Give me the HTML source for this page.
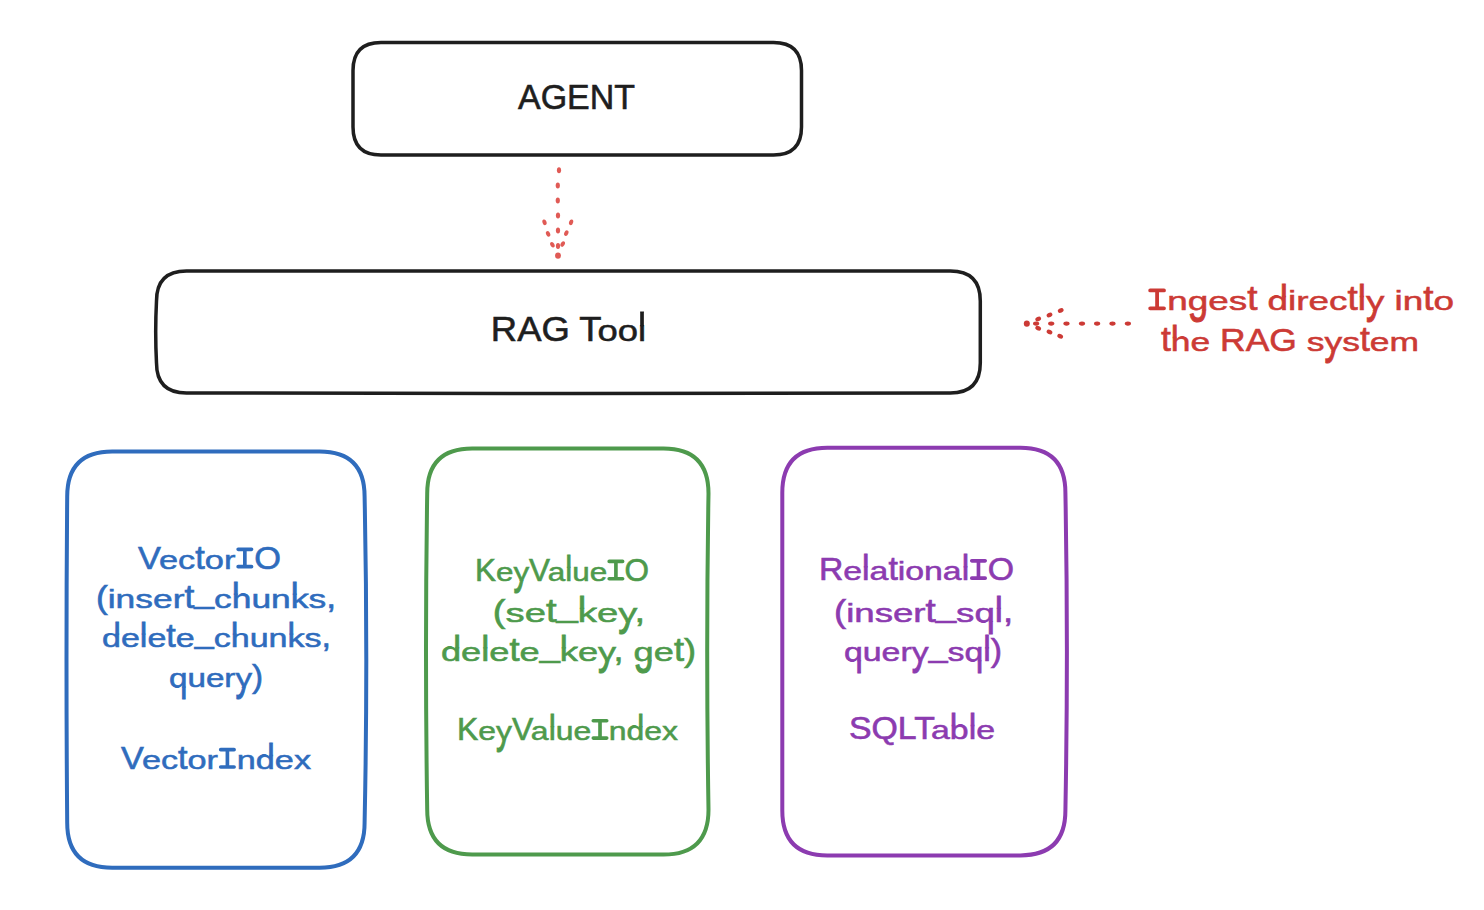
<!DOCTYPE html><html><head><meta charset="utf-8"><style>html,body{margin:0;padding:0;background:#fff;width:1484px;height:910px;overflow:hidden}svg{display:block}text{font-family:"Liberation Sans",sans-serif}</style></head><body>
<svg width="1484" height="910" viewBox="0 0 1484 910">
<defs><clipPath id="ab" clipPathUnits="userSpaceOnUse"><rect x="-500" y="-500" width="1000" height="500.4"/></clipPath><clipPath id="be" clipPathUnits="userSpaceOnUse"><rect x="-500" y="-0.4" width="1000" height="500.4"/></clipPath><clipPath id="xa30_5" clipPathUnits="userSpaceOnUse"><rect x="-500" y="-500" width="1000" height="484.396"/></clipPath><clipPath id="xb30_5" clipPathUnits="userSpaceOnUse"><rect x="-500" y="-16.604" width="1000" height="516.604"/></clipPath><clipPath id="xa31_5" clipPathUnits="userSpaceOnUse"><rect x="-500" y="-500" width="1000" height="483.868"/></clipPath><clipPath id="xb31_5" clipPathUnits="userSpaceOnUse"><rect x="-500" y="-17.132" width="1000" height="517.132"/></clipPath><clipPath id="xa34_5" clipPathUnits="userSpaceOnUse"><rect x="-500" y="-500" width="1000" height="482.284"/></clipPath><clipPath id="xb34_5" clipPathUnits="userSpaceOnUse"><rect x="-500" y="-18.716" width="1000" height="518.716"/></clipPath></defs>
<path d="M381.0,42.5 Q577.2,42.5 773.5,42.5 Q801.5,42.5 801.5,70.5 Q801.5,98.8 801.5,127.0 Q801.5,155.0 773.5,155.0 Q577.2,155.0 381.0,155.0 Q353.0,155.0 353.0,127.0 Q353.0,98.8 353.0,70.5 Q353.0,42.5 381.0,42.5 Z" fill="none" stroke="#1e1e1e" stroke-width="3.5" stroke-linejoin="round"/>
<path d="M186.5,271.0 Q568.4,271.0 950.3,271.0 Q980.3,271.0 980.3,301.0 Q980.3,332.0 980.3,363.0 Q980.3,393.0 950.3,393.0 Q568.4,394.0 186.5,393.0 Q156.5,393.0 156.5,363.0 Q154.9,332.0 156.5,301.0 Q156.5,271.0 186.5,271.0 Z" fill="none" stroke="#1e1e1e" stroke-width="3.5" stroke-linejoin="round"/>
<path d="M112.2,451.5 Q215.9,451.5 319.6,451.5 Q364.6,451.5 364.6,496.5 Q368.0,659.6 364.6,822.7 Q364.6,867.7 319.6,867.7 Q215.9,867.7 112.2,867.7 Q67.2,867.7 67.2,822.7 Q65.8,659.6 67.2,496.5 Q67.2,451.5 112.2,451.5 Z" fill="none" stroke="#2f6cbd" stroke-width="4.0" stroke-linejoin="round"/>
<path d="M472.2,448.5 Q567.9,448.5 663.5,448.5 Q708.5,448.5 708.5,493.5 Q705.9,651.5 708.5,809.6 Q708.5,854.6 663.5,854.6 Q567.9,854.6 472.2,854.6 Q427.2,854.6 427.2,809.6 Q424.8,651.5 427.2,493.5 Q427.2,448.5 472.2,448.5 Z" fill="none" stroke="#4e9a4c" stroke-width="4.0" stroke-linejoin="round"/>
<path d="M827.3,447.7 Q923.9,447.7 1020.4,447.7 Q1065.4,447.7 1065.4,492.7 Q1068.4,651.5 1065.4,810.4 Q1065.4,855.4 1020.4,855.4 Q923.9,855.4 827.3,855.4 Q782.3,855.4 782.3,810.4 Q782.3,651.5 782.3,492.7 Q782.3,447.7 827.3,447.7 Z" fill="none" stroke="#8c3bb0" stroke-width="4.0" stroke-linejoin="round"/>
<ellipse cx="559" cy="170.3" rx="2.1" ry="3.0" fill="#e05a55"/>
<ellipse cx="557.8" cy="185.4" rx="2.1" ry="3.0" fill="#e05a55"/>
<ellipse cx="557.8" cy="200.5" rx="2.1" ry="3.0" fill="#e05a55"/>
<ellipse cx="558" cy="215.6" rx="2.1" ry="3.0" fill="#e05a55"/>
<ellipse cx="558" cy="230.5" rx="2.1" ry="3.0" fill="#e05a55"/>
<ellipse cx="558" cy="245.9" rx="2.1" ry="3.0" fill="#e05a55"/>
<ellipse cx="558" cy="255.6" rx="2.9" ry="3.2" fill="#e05a55"/>
<ellipse cx="544.5" cy="222.3" rx="2.0" ry="2.9" fill="#e05a55" transform="rotate(-20 544.5 222.3)"/>
<ellipse cx="548.1" cy="233.8" rx="2.0" ry="2.9" fill="#e05a55" transform="rotate(-25 548.1 233.8)"/>
<ellipse cx="552.4" cy="244.7" rx="2.0" ry="2.9" fill="#e05a55" transform="rotate(-30 552.4 244.7)"/>
<ellipse cx="571.1" cy="222.3" rx="2.0" ry="2.9" fill="#e05a55" transform="rotate(20 571.1 222.3)"/>
<ellipse cx="566.3" cy="233.2" rx="2.0" ry="2.9" fill="#e05a55" transform="rotate(25 566.3 233.2)"/>
<ellipse cx="562.7" cy="244.1" rx="2.0" ry="2.9" fill="#e05a55" transform="rotate(30 562.7 244.1)"/>
<ellipse cx="1036.1" cy="323.6" rx="3.1" ry="2.1" fill="#cc3a35"/>
<ellipse cx="1051.2" cy="323.6" rx="3.1" ry="2.1" fill="#cc3a35"/>
<ellipse cx="1066.5" cy="323.6" rx="3.1" ry="2.1" fill="#cc3a35"/>
<ellipse cx="1082" cy="323.6" rx="3.1" ry="2.1" fill="#cc3a35"/>
<ellipse cx="1097.1" cy="323.6" rx="3.1" ry="2.1" fill="#cc3a35"/>
<ellipse cx="1112.5" cy="323.6" rx="3.1" ry="2.1" fill="#cc3a35"/>
<ellipse cx="1127.9" cy="323.6" rx="3.1" ry="2.1" fill="#cc3a35"/>
<ellipse cx="1026.8" cy="323.6" rx="3.0" ry="3.2" fill="#cc3a35"/>
<ellipse cx="1038.2" cy="319" rx="3.0" ry="2.2" fill="#cc3a35" transform="rotate(-25 1038.2 319)"/>
<ellipse cx="1049.5" cy="315" rx="3.0" ry="2.2" fill="#cc3a35" transform="rotate(-25 1049.5 315)"/>
<ellipse cx="1060.7" cy="310.6" rx="3.0" ry="2.2" fill="#cc3a35" transform="rotate(-25 1060.7 310.6)"/>
<ellipse cx="1038.2" cy="328.3" rx="3.0" ry="2.2" fill="#cc3a35" transform="rotate(25 1038.2 328.3)"/>
<ellipse cx="1049.5" cy="332" rx="3.0" ry="2.2" fill="#cc3a35" transform="rotate(25 1049.5 332)"/>
<ellipse cx="1060.2" cy="336.3" rx="3.0" ry="2.2" fill="#cc3a35" transform="rotate(25 1060.2 336.3)"/>
<g fill="#1e1e1e" stroke="#1e1e1e" stroke-width="0.6" font-size="34.5"><text transform="translate(517.98 109.40) scale(0.9846 1.000)">A</text><text transform="translate(540.63 109.40) scale(0.9846 1.000)">G</text><text transform="translate(567.06 109.40) scale(0.9846 1.000)">E</text><text transform="translate(589.71 109.40) scale(0.9846 1.000)">N</text><text transform="translate(614.25 109.40) scale(0.9846 1.000)">T</text></g>
<g fill="#1e1e1e" stroke="#1e1e1e" stroke-width="0.6" font-size="34.5"><text transform="translate(490.87 340.60) scale(1.0558 1.000)">R</text><text transform="translate(517.17 340.60) scale(1.0558 1.000)">A</text><text transform="translate(541.47 340.60) scale(1.0558 1.000)">G</text><text transform="translate(579.26 340.60) scale(1.0558 1.000)">T</text><text transform="translate(597.48 340.60) scale(1.0558 0.840)">o</text><text transform="translate(617.74 340.60) scale(1.0558 0.840)">o</text><text transform="translate(637.99 340.60) scale(1.0558 0.840)" clip-path="url(#xb34_5)">l</text><text transform="translate(637.99 359.19) scale(1.0558 1.860)" clip-path="url(#xa34_5)">l</text></g>
<g fill="#cc3a35" stroke="#cc3a35" stroke-width="0.6" font-size="31.5"><path d="M1150.16 290.42H1164.02M1157.09 290.42V308.31M1150.16 308.31H1164.02" fill="none" stroke-width="3.78" stroke-linecap="round"/><text transform="translate(1167.22 310.20) scale(1.1700 0.840)">n</text><text transform="translate(1187.71 310.20) scale(1.1700 0.840)" clip-path="url(#ab)">g</text><text transform="translate(1187.71 310.20) scale(1.1700 1.800)" clip-path="url(#be)">g</text><text transform="translate(1208.21 310.20) scale(1.1700 0.840)">e</text><text transform="translate(1228.70 310.20) scale(1.1700 0.840)">s</text><text transform="translate(1247.13 310.20) scale(1.1700 1.100)">t</text><text transform="translate(1267.60 310.20) scale(1.1700 0.840)" clip-path="url(#xb31_5)">d</text><text transform="translate(1267.60 327.17) scale(1.1700 1.860)" clip-path="url(#xa31_5)">d</text><text transform="translate(1288.11 310.20) scale(1.1700 0.850)">i</text><text transform="translate(1296.30 310.20) scale(1.1700 0.840)">r</text><text transform="translate(1308.57 310.20) scale(1.1700 0.840)">e</text><text transform="translate(1329.06 310.20) scale(1.1700 0.840)">c</text><text transform="translate(1347.49 310.20) scale(1.1700 1.100)">t</text><text transform="translate(1357.73 310.20) scale(1.1700 0.840)" clip-path="url(#xb31_5)">l</text><text transform="translate(1357.73 327.17) scale(1.1700 1.860)" clip-path="url(#xa31_5)">l</text><text transform="translate(1365.92 310.20) scale(1.1700 0.840)" clip-path="url(#ab)">y</text><text transform="translate(1365.92 310.20) scale(1.1700 1.800)" clip-path="url(#be)">y</text><text transform="translate(1394.58 310.20) scale(1.1700 0.850)">i</text><text transform="translate(1402.77 310.20) scale(1.1700 0.840)">n</text><text transform="translate(1423.27 310.20) scale(1.1700 1.100)">t</text><text transform="translate(1433.50 310.20) scale(1.1700 0.840)">o</text></g>
<g fill="#cc3a35" stroke="#cc3a35" stroke-width="0.6" font-size="31.5"><text transform="translate(1160.98 351.20) scale(1.1253 1.100)">t</text><text transform="translate(1170.82 351.20) scale(1.1253 0.840)" clip-path="url(#xb31_5)">h</text><text transform="translate(1170.82 368.17) scale(1.1253 1.860)" clip-path="url(#xa31_5)">h</text><text transform="translate(1190.53 351.20) scale(1.1253 0.840)">e</text><text transform="translate(1220.09 351.20) scale(1.1253 1.000)">R</text><text transform="translate(1245.69 351.20) scale(1.1253 1.000)">A</text><text transform="translate(1269.34 351.20) scale(1.1253 1.000)">G</text><text transform="translate(1306.75 351.20) scale(1.1253 0.840)">s</text><text transform="translate(1324.48 351.20) scale(1.1253 0.840)" clip-path="url(#ab)">y</text><text transform="translate(1324.48 351.20) scale(1.1253 1.800)" clip-path="url(#be)">y</text><text transform="translate(1342.20 351.20) scale(1.1253 0.840)">s</text><text transform="translate(1359.92 351.20) scale(1.1253 1.100)">t</text><text transform="translate(1369.77 351.20) scale(1.1253 0.840)">e</text><text transform="translate(1389.48 351.20) scale(1.1253 0.840)">m</text></g>
<g fill="#2f6cbd" stroke="#2f6cbd" stroke-width="0.6" font-size="30.5"><text transform="translate(137.98 568.50) scale(1.1268 1.000)">V</text><text transform="translate(159.00 568.50) scale(1.1268 0.840)">e</text><text transform="translate(178.10 568.50) scale(1.1268 0.840)">c</text><text transform="translate(195.29 568.50) scale(1.1268 1.100)">t</text><text transform="translate(204.85 568.50) scale(1.1268 0.840)">o</text><text transform="translate(223.95 568.50) scale(1.1268 0.840)">r</text><path d="M238.14 549.35H251.56M244.85 549.35V566.67M238.14 566.67H251.56" fill="none" stroke-width="3.66" stroke-linecap="round"/><text transform="translate(254.30 568.50) scale(1.1268 1.000)">O</text></g>
<g fill="#2f6cbd" stroke="#2f6cbd" stroke-width="0.6" font-size="30.5"><text transform="translate(95.92 607.50) scale(1.1611 1.000)">(</text><text transform="translate(107.71 607.50) scale(1.1611 0.850)">i</text><text transform="translate(115.57 607.50) scale(1.1611 0.840)">n</text><text transform="translate(135.27 607.50) scale(1.1611 0.840)">s</text><text transform="translate(152.98 607.50) scale(1.1611 0.840)">e</text><text transform="translate(172.66 607.50) scale(1.1611 0.840)">r</text><text transform="translate(184.45 607.50) scale(1.1611 1.100)">t</text><text transform="translate(194.31 603.00) scale(1.1611 1.000)">_</text><text transform="translate(213.99 607.50) scale(1.1611 0.840)">c</text><text transform="translate(231.70 607.50) scale(1.1611 0.840)" clip-path="url(#xb30_5)">h</text><text transform="translate(231.70 623.93) scale(1.1611 1.860)" clip-path="url(#xa30_5)">h</text><text transform="translate(251.40 607.50) scale(1.1611 0.840)">u</text><text transform="translate(271.10 607.50) scale(1.1611 0.840)">n</text><text transform="translate(290.79 607.50) scale(1.1611 0.840)" clip-path="url(#xb30_5)">k</text><text transform="translate(290.79 623.93) scale(1.1611 1.860)" clip-path="url(#xa30_5)">k</text><text transform="translate(308.49 607.50) scale(1.1611 0.840)">s</text><text transform="translate(326.20 607.50) scale(1.1611 1.000)">,</text></g>
<g fill="#2f6cbd" stroke="#2f6cbd" stroke-width="0.6" font-size="30.5"><text transform="translate(101.95 647.40) scale(1.1166 0.840)" clip-path="url(#xb30_5)">d</text><text transform="translate(101.95 663.83) scale(1.1166 1.860)" clip-path="url(#xa30_5)">d</text><text transform="translate(120.88 647.40) scale(1.1166 0.840)">e</text><text transform="translate(139.83 647.40) scale(1.1166 0.840)" clip-path="url(#xb30_5)">l</text><text transform="translate(139.83 663.83) scale(1.1166 1.860)" clip-path="url(#xa30_5)">l</text><text transform="translate(147.39 647.40) scale(1.1166 0.840)">e</text><text transform="translate(166.33 647.40) scale(1.1166 1.100)">t</text><text transform="translate(175.79 647.40) scale(1.1166 0.840)">e</text><text transform="translate(194.74 642.90) scale(1.1166 1.000)">_</text><text transform="translate(213.69 647.40) scale(1.1166 0.840)">c</text><text transform="translate(230.72 647.40) scale(1.1166 0.840)" clip-path="url(#xb30_5)">h</text><text transform="translate(230.72 663.83) scale(1.1166 1.860)" clip-path="url(#xa30_5)">h</text><text transform="translate(249.65 647.40) scale(1.1166 0.840)">u</text><text transform="translate(268.59 647.40) scale(1.1166 0.840)">n</text><text transform="translate(287.52 647.40) scale(1.1166 0.840)" clip-path="url(#xb30_5)">k</text><text transform="translate(287.52 663.83) scale(1.1166 1.860)" clip-path="url(#xa30_5)">k</text><text transform="translate(304.55 647.40) scale(1.1166 0.840)">s</text><text transform="translate(321.58 647.40) scale(1.1166 1.000)">,</text></g>
<g fill="#2f6cbd" stroke="#2f6cbd" stroke-width="0.6" font-size="30.5"><text transform="translate(168.94 687.30) scale(1.0891 0.840)" clip-path="url(#ab)">q</text><text transform="translate(168.94 687.30) scale(1.0891 1.800)" clip-path="url(#be)">q</text><text transform="translate(187.40 687.30) scale(1.0891 0.840)">u</text><text transform="translate(205.88 687.30) scale(1.0891 0.840)">e</text><text transform="translate(224.35 687.30) scale(1.0891 0.840)">r</text><text transform="translate(235.41 687.30) scale(1.0891 0.840)" clip-path="url(#ab)">y</text><text transform="translate(235.41 687.30) scale(1.0891 1.800)" clip-path="url(#be)">y</text><text transform="translate(252.01 687.30) scale(1.0891 1.000)">)</text></g>
<g fill="#2f6cbd" stroke="#2f6cbd" stroke-width="0.6" font-size="30.5"><text transform="translate(120.98 768.80) scale(1.1220 1.000)">V</text><text transform="translate(141.92 768.80) scale(1.1220 0.840)">e</text><text transform="translate(160.94 768.80) scale(1.1220 0.840)">c</text><text transform="translate(178.05 768.80) scale(1.1220 1.100)">t</text><text transform="translate(187.57 768.80) scale(1.1220 0.840)">o</text><text transform="translate(206.59 768.80) scale(1.1220 0.840)">r</text><path d="M220.69 749.65H234.11M227.40 749.65V766.97M220.69 766.97H234.11" fill="none" stroke-width="3.66" stroke-linecap="round"/><text transform="translate(236.81 768.80) scale(1.1220 0.840)">n</text><text transform="translate(255.83 768.80) scale(1.1220 0.840)" clip-path="url(#xb30_5)">d</text><text transform="translate(255.83 785.23) scale(1.1220 1.860)" clip-path="url(#xa30_5)">d</text><text transform="translate(274.87 768.80) scale(1.1220 0.840)">e</text><text transform="translate(293.91 768.80) scale(1.1220 0.840)">x</text></g>
<g fill="#4e9a4c" stroke="#4e9a4c" stroke-width="0.6" font-size="30.5"><text transform="translate(474.92 580.60) scale(1.0315 1.000)">K</text><text transform="translate(495.89 580.60) scale(1.0315 0.840)">e</text><text transform="translate(513.39 580.60) scale(1.0315 0.840)" clip-path="url(#ab)">y</text><text transform="translate(513.39 580.60) scale(1.0315 1.800)" clip-path="url(#be)">y</text><text transform="translate(529.12 580.60) scale(1.0315 1.000)">V</text><text transform="translate(547.77 580.60) scale(1.0315 0.840)">a</text><text transform="translate(565.27 580.60) scale(1.0315 0.840)" clip-path="url(#xb30_5)">l</text><text transform="translate(565.27 597.03) scale(1.0315 1.860)" clip-path="url(#xa30_5)">l</text><text transform="translate(572.25 580.60) scale(1.0315 0.840)">u</text><text transform="translate(589.76 580.60) scale(1.0315 0.840)">e</text><path d="M609.20 561.45H622.62M615.91 561.45V578.77M609.20 578.77H622.62" fill="none" stroke-width="3.66" stroke-linecap="round"/><text transform="translate(624.56 580.60) scale(1.0315 1.000)">O</text></g>
<g fill="#4e9a4c" stroke="#4e9a4c" stroke-width="0.6" font-size="30.5"><text transform="translate(492.87 621.60) scale(1.2537 1.000)">(</text><text transform="translate(505.60 621.60) scale(1.2537 0.840)">s</text><text transform="translate(524.72 621.60) scale(1.2537 0.840)">e</text><text transform="translate(545.98 621.60) scale(1.2537 1.100)">t</text><text transform="translate(556.59 617.10) scale(1.2537 1.000)">_</text><text transform="translate(577.87 621.60) scale(1.2537 0.840)" clip-path="url(#xb30_5)">k</text><text transform="translate(577.87 638.03) scale(1.2537 1.860)" clip-path="url(#xa30_5)">k</text><text transform="translate(596.99 621.60) scale(1.2537 0.840)">e</text><text transform="translate(618.26 621.60) scale(1.2537 0.840)" clip-path="url(#ab)">y</text><text transform="translate(618.26 621.60) scale(1.2537 1.800)" clip-path="url(#be)">y</text><text transform="translate(634.54 621.60) scale(1.2537 1.000)">,</text></g>
<g fill="#4e9a4c" stroke="#4e9a4c" stroke-width="0.6" font-size="30.5"><text transform="translate(440.97 661.00) scale(1.1876 0.840)" clip-path="url(#xb30_5)">d</text><text transform="translate(440.97 677.43) scale(1.1876 1.860)" clip-path="url(#xa30_5)">d</text><text transform="translate(461.10 661.00) scale(1.1876 0.840)">e</text><text transform="translate(481.26 661.00) scale(1.1876 0.840)" clip-path="url(#xb30_5)">l</text><text transform="translate(481.26 677.43) scale(1.1876 1.860)" clip-path="url(#xa30_5)">l</text><text transform="translate(489.29 661.00) scale(1.1876 0.840)">e</text><text transform="translate(509.44 661.00) scale(1.1876 1.100)">t</text><text transform="translate(519.50 661.00) scale(1.1876 0.840)">e</text><text transform="translate(539.65 656.50) scale(1.1876 1.000)">_</text><text transform="translate(559.80 661.00) scale(1.1876 0.840)" clip-path="url(#xb30_5)">k</text><text transform="translate(559.80 677.43) scale(1.1876 1.860)" clip-path="url(#xa30_5)">k</text><text transform="translate(577.91 661.00) scale(1.1876 0.840)">e</text><text transform="translate(598.05 661.00) scale(1.1876 0.840)" clip-path="url(#ab)">y</text><text transform="translate(598.05 661.00) scale(1.1876 1.800)" clip-path="url(#be)">y</text><text transform="translate(613.47 661.00) scale(1.1876 1.000)">,</text><text transform="translate(633.60 661.00) scale(1.1876 0.840)" clip-path="url(#ab)">g</text><text transform="translate(633.60 661.00) scale(1.1876 1.800)" clip-path="url(#be)">g</text><text transform="translate(653.75 661.00) scale(1.1876 0.840)">e</text><text transform="translate(673.89 661.00) scale(1.1876 1.100)">t</text><text transform="translate(683.94 661.00) scale(1.1876 1.000)">)</text></g>
<g fill="#4e9a4c" stroke="#4e9a4c" stroke-width="0.6" font-size="30.5"><text transform="translate(456.96 739.90) scale(1.0465 1.000)">K</text><text transform="translate(478.23 739.90) scale(1.0465 0.840)">e</text><text transform="translate(495.99 739.90) scale(1.0465 0.840)" clip-path="url(#ab)">y</text><text transform="translate(495.99 739.90) scale(1.0465 1.800)" clip-path="url(#be)">y</text><text transform="translate(511.95 739.90) scale(1.0465 1.000)">V</text><text transform="translate(530.87 739.90) scale(1.0465 0.840)">a</text><text transform="translate(548.63 739.90) scale(1.0465 0.840)" clip-path="url(#xb30_5)">l</text><text transform="translate(548.63 756.33) scale(1.0465 1.860)" clip-path="url(#xa30_5)">l</text><text transform="translate(555.71 739.90) scale(1.0465 0.840)">u</text><text transform="translate(573.47 739.90) scale(1.0465 0.840)">e</text><path d="M593.30 720.75H606.72M600.01 720.75V738.07M593.30 738.07H606.72" fill="none" stroke-width="3.66" stroke-linecap="round"/><text transform="translate(608.78 739.90) scale(1.0465 0.840)">n</text><text transform="translate(626.54 739.90) scale(1.0465 0.840)" clip-path="url(#xb30_5)">d</text><text transform="translate(626.54 756.33) scale(1.0465 1.860)" clip-path="url(#xa30_5)">d</text><text transform="translate(644.28 739.90) scale(1.0465 0.840)">e</text><text transform="translate(662.04 739.90) scale(1.0465 0.840)">x</text></g>
<g fill="#8c3bb0" stroke="#8c3bb0" stroke-width="0.6" font-size="30.5"><text transform="translate(818.93 580.00) scale(1.1077 1.000)">R</text><text transform="translate(843.31 580.00) scale(1.1077 0.840)">e</text><text transform="translate(862.11 580.00) scale(1.1077 0.840)" clip-path="url(#xb30_5)">l</text><text transform="translate(862.11 596.43) scale(1.1077 1.860)" clip-path="url(#xa30_5)">l</text><text transform="translate(869.60 580.00) scale(1.1077 0.840)">a</text><text transform="translate(888.40 580.00) scale(1.1077 1.100)">t</text><text transform="translate(897.78 580.00) scale(1.1077 0.850)">i</text><text transform="translate(905.30 580.00) scale(1.1077 0.840)">o</text><text transform="translate(924.09 580.00) scale(1.1077 0.840)">n</text><text transform="translate(942.87 580.00) scale(1.1077 0.840)">a</text><text transform="translate(961.67 580.00) scale(1.1077 0.840)" clip-path="url(#xb30_5)">l</text><text transform="translate(961.67 596.43) scale(1.1077 1.860)" clip-path="url(#xa30_5)">l</text><path d="M971.76 560.85H985.18M978.47 560.85V578.17M971.76 578.17H985.18" fill="none" stroke-width="3.66" stroke-linecap="round"/><text transform="translate(987.76 580.00) scale(1.1077 1.000)">O</text></g>
<g fill="#8c3bb0" stroke="#8c3bb0" stroke-width="0.6" font-size="30.5"><text transform="translate(833.94 621.60) scale(1.2013 1.000)">(</text><text transform="translate(846.14 621.60) scale(1.2013 0.850)">i</text><text transform="translate(854.26 621.60) scale(1.2013 0.840)">n</text><text transform="translate(874.65 621.60) scale(1.2013 0.840)">s</text><text transform="translate(892.97 621.60) scale(1.2013 0.840)">e</text><text transform="translate(913.33 621.60) scale(1.2013 0.840)">r</text><text transform="translate(925.53 621.60) scale(1.2013 1.100)">t</text><text transform="translate(935.72 617.10) scale(1.2013 1.000)">_</text><text transform="translate(956.09 621.60) scale(1.2013 0.840)">s</text><text transform="translate(974.41 621.60) scale(1.2013 0.840)" clip-path="url(#ab)">q</text><text transform="translate(974.41 621.60) scale(1.2013 1.800)" clip-path="url(#be)">q</text><text transform="translate(994.79 621.60) scale(1.2013 0.840)" clip-path="url(#xb30_5)">l</text><text transform="translate(994.79 638.03) scale(1.2013 1.860)" clip-path="url(#xa30_5)">l</text><text transform="translate(1002.94 621.60) scale(1.2013 1.000)">,</text></g>
<g fill="#8c3bb0" stroke="#8c3bb0" stroke-width="0.6" font-size="30.5"><text transform="translate(843.95 661.00) scale(1.1101 0.840)" clip-path="url(#ab)">q</text><text transform="translate(843.95 661.00) scale(1.1101 1.800)" clip-path="url(#be)">q</text><text transform="translate(862.77 661.00) scale(1.1101 0.840)">u</text><text transform="translate(881.61 661.00) scale(1.1101 0.840)">e</text><text transform="translate(900.43 661.00) scale(1.1101 0.840)">r</text><text transform="translate(911.70 661.00) scale(1.1101 0.840)" clip-path="url(#ab)">y</text><text transform="translate(911.70 661.00) scale(1.1101 1.800)" clip-path="url(#be)">y</text><text transform="translate(928.63 656.50) scale(1.1101 1.000)">_</text><text transform="translate(947.47 661.00) scale(1.1101 0.840)">s</text><text transform="translate(964.40 661.00) scale(1.1101 0.840)" clip-path="url(#ab)">q</text><text transform="translate(964.40 661.00) scale(1.1101 1.800)" clip-path="url(#be)">q</text><text transform="translate(983.23 661.00) scale(1.1101 0.840)" clip-path="url(#xb30_5)">l</text><text transform="translate(983.23 677.43) scale(1.1101 1.860)" clip-path="url(#xa30_5)">l</text><text transform="translate(990.74 661.00) scale(1.1101 1.000)">)</text></g>
<g fill="#8c3bb0" stroke="#8c3bb0" stroke-width="0.6" font-size="30.5"><text transform="translate(848.93 738.80) scale(1.1096 1.000)">S</text><text transform="translate(871.48 738.80) scale(1.1096 1.000)">Q</text><text transform="translate(897.82 738.80) scale(1.1096 1.000)">L</text><text transform="translate(914.13 738.80) scale(1.1096 1.000)">T</text><text transform="translate(931.06 738.80) scale(1.1096 0.840)">a</text><text transform="translate(949.87 738.80) scale(1.1096 0.840)" clip-path="url(#xb30_5)">b</text><text transform="translate(949.87 755.23) scale(1.1096 1.860)" clip-path="url(#xa30_5)">b</text><text transform="translate(968.70 738.80) scale(1.1096 0.840)" clip-path="url(#xb30_5)">l</text><text transform="translate(968.70 755.23) scale(1.1096 1.860)" clip-path="url(#xa30_5)">l</text><text transform="translate(976.20 738.80) scale(1.1096 0.840)">e</text></g>
</svg></body></html>
